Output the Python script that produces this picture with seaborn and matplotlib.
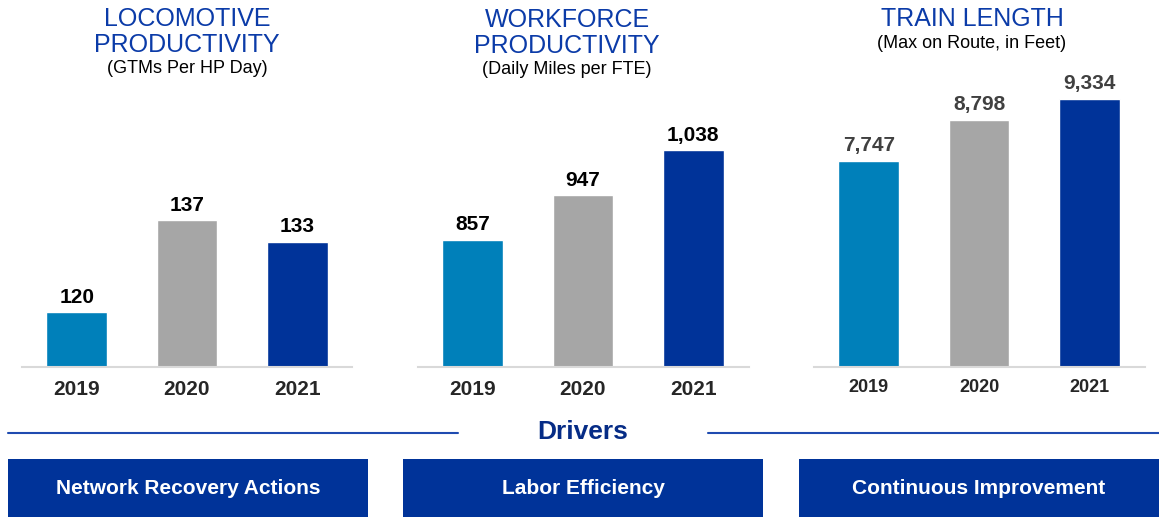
import seaborn as sns
import matplotlib.pyplot as plt
import pandas as pd
from matplotlib.patches import Rectangle

sns.set_style('white')
plt.rcParams['font.family'] = ['Liberation Sans', 'DejaVu Sans']

years = ['2019', '2020', '2021']
loco = [120, 137, 133]
workforce = [857, 947, 1038]
train_len = [7747, 8798, 9334]
bar_colors = ['#0080BA', '#A6A6A6', '#003399']

titles = [['LOCOMOTIVE', 'PRODUCTIVITY'], ['WORKFORCE', 'PRODUCTIVITY'], ['TRAIN LENGTH']]
subtitles = ['(GTMs Per HP Day)', '(Daily Miles per FTE)', '(Max on Route, in Feet)']
drivers = ['Network Recovery Actions', 'Labor Efficiency', 'Continuous Improvement']

W, H = 1159, 517
fig = plt.figure(figsize=(W/100, H/100), dpi=100)

TBLUE = '#0B3BA8'

# values, ylim, left px, title x, title baselines, sub baseline, label color, tick size, tick pad
panels = [
    (loco, (110, 161.1), 21.5, 187, [26, 52], 73, 'black', 15, 10),
    (workforce, (600, 1160), 417.5, 567, [27, 53], 74, 'black', 15, 10),
    (train_len, (2500, 9559), 813.5, 972, [26], 48, '#404040', 13, 9),
]

for i, (vals, ylim, left, tx, tys, sy, lcol, tsize, tpad) in enumerate(panels):
    ax = fig.add_axes([left/W, (H-366.5)/H, 331/W, 276.5/H])
    df = pd.DataFrame({'year': years, 'value': vals})
    sns.barplot(data=df, x='year', y='value', hue='year', palette=bar_colors,
                width=0.55, legend=False, ax=ax, saturation=1)
    ax.set_ylim(*ylim)
    ax.set_xlim(-0.5, 2.5)
    ax.set_xlabel('')
    ax.set_ylabel('')
    ax.set_yticks([])
    sns.despine(ax=ax, left=True)
    ax.spines['bottom'].set_color('#D9D9D9')
    ax.spines['bottom'].set_linewidth(1.5)
    ax.tick_params(axis='x', length=0, pad=tpad, labelsize=tsize)
    for t in ax.get_xticklabels():
        t.set_fontweight('bold')
    for c, v in zip(ax.containers, vals):
        ax.bar_label(c, labels=[f'{v:,}'], padding=4, fontsize=15,
                     fontweight='bold', color=lcol)
    for line, ty in zip(titles[i], tys):
        fig.text(tx/W, 1 - ty/H, line, ha='center', va='baseline', fontsize=18,
                 color=TBLUE)
    fig.text(tx/W, 1 - sy/H, subtitles[i], ha='center', va='baseline',
             fontsize=13, color='black')

# bottom "Drivers" band in pixel coordinates
ov = fig.add_axes([0, 0, 1, 1])
ov.set_xlim(0, W)
ov.set_ylim(H, 0)
ov.axis('off')
ov.plot([8, 458], [432.5, 432.5], color='#1F4BB0', lw=1.5)
ov.plot([708, W], [432.5, 432.5], color='#1F4BB0', lw=1.5)
ov.text(583, 432, 'Drivers', ha='center', va='center', fontsize=19,
        fontweight='bold', color='#062C86')
for x0, label in zip([8, 403, 799], drivers):
    ov.add_patch(Rectangle((x0, 459), 360, 60, color='#003399', lw=0))
    ov.text(x0 + 180, 488, label, ha='center', va='center', fontsize=15,
            fontweight='bold', color='white')

fig.savefig('out.png', dpi=100)
